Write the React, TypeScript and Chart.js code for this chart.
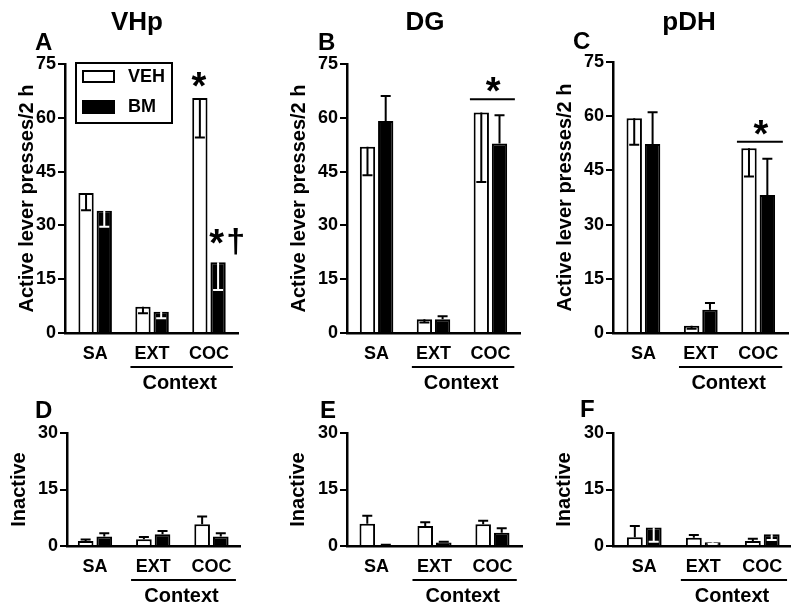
import React, { useEffect, useRef } from "react";
import { Chart, registerables } from "chart.js";

Chart.register(...registerables);

const FONT = '"Liberation Sans", Arial, Helvetica, sans-serif';
Chart.defaults.font.family = FONT;
Chart.defaults.color = "#000";

// ---------- text ----------
const categories = ["SA", "EXT", "COC"];
const contextLabel = "Context";
const seriesLabels = ["VEH", "BM"];
const regionTitles = ["VHp", "DG", "pDH"];
const panelLetters = ["A", "B", "C", "D", "E", "F"];
const activeAxisTitle = "Active lever presses/2 h";
const inactiveAxisTitle = "Inactive";
const activeTicks = [0, 15, 30, 45, 60, 75];
const inactiveTicks = [0, 15, 30];

// ---------- data (mean, SEM; dir 1 = error bar drawn above, -1 = drawn into bar) ----------
// A – VHp, active lever
const vhpActiveVeh = [39.0, 7.3, 65.5];
const vhpActiveVehSem = [4.8, 1.8, 11.0];
const vhpActiveVehDir = [-1, -1, -1];
const vhpActiveBm = [34.1, 5.9, 19.7];
const vhpActiveBmSem = [4.5, 1.8, 7.7];
const vhpActiveBmDir = [-1, -1, -1];

// B – DG, active lever
const dgActiveVeh = [51.9, 3.8, 61.5];
const dgActiveVehSem = [7.9, 0.9, 19.4];
const dgActiveVehDir = [-1, -1, -1];
const dgActiveBm = [59.1, 3.8, 52.8];
const dgActiveBmSem = [7.0, 0.9, 7.9];
const dgActiveBmDir = [1, 1, 1];

// C – pDH, active lever
const pdhActiveVeh = [59.4, 2.0, 51.1];
const pdhActiveVehSem = [7.3, 0.8, 7.8];
const pdhActiveVehDir = [-1, -1, -1];
const pdhActiveBm = [52.3, 6.4, 38.2];
const pdhActiveBmSem = [8.8, 1.9, 10.0];
const pdhActiveBmDir = [1, 1, 1];

// D – VHp, inactive lever
const vhpInactiveVeh = [1.3, 1.8, 5.8];
const vhpInactiveVehSem = [0.4, 0.6, 2.0];
const vhpInactiveVehDir = [1, 1, 1];
const vhpInactiveBm = [2.5, 3.1, 2.5];
const vhpInactiveBmSem = [0.9, 0.9, 0.9];
const vhpInactiveBmDir = [1, 1, 1];

// E – DG, inactive lever
const dgInactiveVeh = [5.9, 5.3, 5.8];
const dgInactiveVehSem = [2.1, 1.0, 0.9];
const dgInactiveVehDir = [1, 1, 1];
const dgInactiveBm = [0.2, 0.9, 3.5];
const dgInactiveBmSem = [0.1, 0.2, 1.2];
const dgInactiveBmDir = [1, 1, 1];

// F – pDH, inactive lever
const pdhInactiveVeh = [2.3, 2.2, 1.3];
const pdhInactiveVehSem = [3.0, 0.7, 0.6];
const pdhInactiveVehDir = [1, 1, 1];
const pdhInactiveBm = [4.9, 1.0, 3.1];
const pdhInactiveBmSem = [3.8, 0.5, 1.5];
const pdhInactiveBmDir = [-1, -1, -1];

// ---------- panel layout ----------
type Mark = { text: string; x: number; y: number; size: number };
type PanelDef = {
  id: string;
  left: number; top: number; width: number; height: number;
  yWidth: number; padTop: number; padRight: number; padBottom: number;
  xMin: number; xMax: number;
  ticks: number[]; yTitle: string; yTitlePad: number;
  veh: number[]; vehSem: number[]; vehDir: number[];
  bm: number[]; bmSem: number[]; bmDir: number[];
  heading?: { text: string; cx: number; base: number };
  letter: { text: string; x: number; base: number };
  marks: Mark[];
  sigLine?: { x1: number; x2: number; y: number };
  legend?: { x: number; y: number; w: number; h: number };
};

const panels: PanelDef[] = [
  {
    id: "A", left: 0, top: 0, width: 270, height: 400,
    yWidth: 65, padTop: 64, padRight: 32, padBottom: 37, xMin: -0.53, xMax: 2.51,
    ticks: activeTicks, yTitle: activeAxisTitle, yTitlePad: 15.5,
    veh: vhpActiveVeh, vehSem: vhpActiveVehSem, vehDir: vhpActiveVehDir,
    bm: vhpActiveBm, bmSem: vhpActiveBmSem, bmDir: vhpActiveBmDir,
    heading: { text: regionTitles[0], cx: 137, base: 30 },
    letter: { text: panelLetters[0], x: 35, base: 50 },
    marks: [
      { text: "*", x: 1.825, y: 70.8, size: 38 },
      { text: "*", x: 2.136, y: 26.8, size: 38 },
      { text: "†", x: 2.47, y: 25.4, size: 34 },
    ],
    legend: { x: 76, y: 63, w: 96, h: 60 },
  },
  {
    id: "B", left: 270, top: 0, width: 260, height: 400,
    yWidth: 77, padTop: 64, padRight: 10, padBottom: 37, xMin: -0.52, xMax: 2.52,
    ticks: activeTicks, yTitle: activeAxisTitle, yTitlePad: 17.5,
    veh: dgActiveVeh, vehSem: dgActiveVehSem, vehDir: dgActiveVehDir,
    bm: dgActiveBm, bmSem: dgActiveBmSem, bmDir: dgActiveBmDir,
    heading: { text: regionTitles[1], cx: 155, base: 30 },
    letter: { text: panelLetters[1], x: 48, base: 50 },
    marks: [{ text: "*", x: 2.05, y: 69.4, size: 38 }],
    sigLine: { x1: 1.64, x2: 2.43, y: 65.2 },
  },
  {
    id: "C", left: 530, top: 0, width: 270, height: 400,
    yWidth: 83, padTop: 62, padRight: 12, padBottom: 37, xMin: -0.53, xMax: 2.52,
    ticks: activeTicks, yTitle: activeAxisTitle, yTitlePad: 23.5,
    veh: pdhActiveVeh, vehSem: pdhActiveVehSem, vehDir: pdhActiveVehDir,
    bm: pdhActiveBm, bmSem: pdhActiveBmSem, bmDir: pdhActiveBmDir,
    heading: { text: regionTitles[2], cx: 159, base: 30 },
    letter: { text: panelLetters[2], x: 43, base: 49 },
    marks: [{ text: "*", x: 2.05, y: 56.9, size: 38 }],
    sigLine: { x1: 1.63, x2: 2.43, y: 52.9 },
  },
  {
    id: "D", left: 0, top: 400, width: 270, height: 212,
    yWidth: 67, padTop: 33, padRight: 30, padBottom: 36, xMin: -0.48, xMax: 2.49,
    ticks: inactiveTicks, yTitle: inactiveAxisTitle, yTitlePad: 7,
    veh: vhpInactiveVeh, vehSem: vhpInactiveVehSem, vehDir: vhpInactiveVehDir,
    bm: vhpInactiveBm, bmSem: vhpInactiveBmSem, bmDir: vhpInactiveBmDir,
    letter: { text: panelLetters[3], x: 35, base: 18 },
    marks: [],
  },
  {
    id: "E", left: 270, top: 400, width: 260, height: 212,
    yWidth: 77, padTop: 33, padRight: 8, padBottom: 36, xMin: -0.51, xMax: 2.51,
    ticks: inactiveTicks, yTitle: inactiveAxisTitle, yTitlePad: 16,
    veh: dgInactiveVeh, vehSem: dgInactiveVehSem, vehDir: dgInactiveVehDir,
    bm: dgInactiveBm, bmSem: dgInactiveBmSem, bmDir: dgInactiveBmDir,
    letter: { text: panelLetters[4], x: 50, base: 18 },
    marks: [],
  },
  {
    id: "F", left: 530, top: 400, width: 270, height: 212,
    yWidth: 83, padTop: 33, padRight: 10, padBottom: 36, xMin: -0.53, xMax: 2.47,
    ticks: inactiveTicks, yTitle: inactiveAxisTitle, yTitlePad: 22,
    veh: pdhInactiveVeh, vehSem: pdhInactiveVehSem, vehDir: pdhInactiveVehDir,
    bm: pdhInactiveBm, bmSem: pdhInactiveBmSem, bmDir: pdhInactiveBmDir,
    letter: { text: panelLetters[5], x: 50, base: 17 },
    marks: [],
  },
];

const contextFrom = 0.62;
const contextTo = 2.42;

// ---------- plugins ----------
const errorBarPlugin = {
  id: "semBars",
  afterDatasetsDraw(chart: any) {
    const ctx = chart.ctx;
    const ys = chart.scales.y;
    chart.data.datasets.forEach((ds: any, di: number) => {
      const meta = chart.getDatasetMeta(di);
      meta.data.forEach((bar: any, i: number) => {
        const v = ds.data[i].y;
        const e = ds.sem[i];
        const d = ds.semDir[i];
        const y0 = ys.getPixelForValue(v);
        const y1 = ys.getPixelForValue(v + d * e);
        ctx.save();
        ctx.strokeStyle = d < 0 && ds.dark ? "#fff" : "#000";
        ctx.lineWidth = 2;
        ctx.beginPath();
        ctx.moveTo(bar.x, y0);
        ctx.lineTo(bar.x, y1);
        ctx.moveTo(bar.x - 5, y1);
        ctx.lineTo(bar.x + 5, y1);
        ctx.stroke();
        ctx.restore();
      });
    });
  },
};

function drawCentered(ctx: CanvasRenderingContext2D, text: string, cx: number, cy: number) {
  ctx.textAlign = "left";
  ctx.textBaseline = "alphabetic";
  const m = ctx.measureText(text);
  const w = m.actualBoundingBoxLeft + m.actualBoundingBoxRight;
  const x = cx - w / 2 + m.actualBoundingBoxLeft;
  const y = cy + (m.actualBoundingBoxAscent - m.actualBoundingBoxDescent) / 2;
  ctx.fillText(text, x, y);
}

function makeDecor(p: PanelDef) {
  return {
    id: "decor" + p.id,
    afterDraw(chart: any) {
      const { ctx, chartArea } = chart;
      const xs = chart.scales.x;
      const ys = chart.scales.y;
      ctx.save();
      ctx.fillStyle = "#000";
      ctx.strokeStyle = "#000";
      ctx.lineWidth = 2;
      if (p.heading) {
        ctx.font = `bold 26px ${FONT}`;
        ctx.textAlign = "center";
        ctx.textBaseline = "alphabetic";
        ctx.fillText(p.heading.text, p.heading.cx, p.heading.base);
      }
      ctx.font = `bold 24px ${FONT}`;
      ctx.textAlign = "left";
      ctx.textBaseline = "alphabetic";
      ctx.fillText(p.letter.text, p.letter.x, p.letter.base);

      // Context bracket
      const ly = chartArea.bottom + 34;
      const x1 = xs.getPixelForValue(contextFrom);
      const x2 = xs.getPixelForValue(contextTo);
      ctx.beginPath();
      ctx.moveTo(x1, ly);
      ctx.lineTo(x2, ly);
      ctx.stroke();
      ctx.font = `bold 20px ${FONT}`;
      ctx.textAlign = "center";
      ctx.textBaseline = "middle";
      ctx.fillText(contextLabel, (x1 + x2) / 2 - 2, chartArea.bottom + 50);

      if (p.sigLine) {
        const sy = ys.getPixelForValue(p.sigLine.y);
        ctx.beginPath();
        ctx.moveTo(xs.getPixelForValue(p.sigLine.x1), sy);
        ctx.lineTo(xs.getPixelForValue(p.sigLine.x2), sy);
        ctx.stroke();
      }
      for (const m of p.marks) {
        ctx.font = `bold ${m.size}px ${FONT}`;
        drawCentered(ctx, m.text, xs.getPixelForValue(m.x), ys.getPixelForValue(m.y));
      }
      if (p.legend) {
        const L = p.legend;
        ctx.strokeRect(L.x, L.y, L.w, L.h);
        const sw = 33, sh = 13;
        const rows = [L.y + 7, L.y + 37];
        chart.data.datasets.forEach((ds: any, i: number) => {
          const ry = rows[i];
          if (ds.dark) {
            ctx.fillStyle = "#000";
            ctx.fillRect(L.x + 6, ry, sw, sh + 1);
          } else {
            ctx.fillStyle = "#fff";
            ctx.fillRect(L.x + 6, ry, sw, sh);
            ctx.strokeRect(L.x + 7, ry + 1, sw - 2, sh - 2);
          }
          ctx.fillStyle = "#000";
          ctx.font = `bold 18px ${FONT}`;
          ctx.textAlign = "left";
          ctx.textBaseline = "middle";
          ctx.fillText(ds.label, L.x + 52, ry + sh / 2 + 0.5);
        });
      }
      ctx.restore();
    },
  };
}

function Panel({ p }: { p: PanelDef }) {
  const ref = useRef<HTMLCanvasElement | null>(null);
  useEffect(() => {
    if (!ref.current) return;
    const maxY = p.ticks[p.ticks.length - 1];
    const chart = new Chart(ref.current, {
      type: "bar",
      data: {
        datasets: [
          {
            label: seriesLabels[0],
            data: p.veh.map((v, i) => ({ x: i, y: v })),
            backgroundColor: "#fff",
            borderColor: "#000",
            borderWidth: 2,
            categoryPercentage: 0.64,
            barPercentage: 0.84,
            sem: p.vehSem,
            semDir: p.vehDir,
            dark: false,
          } as any,
          {
            label: seriesLabels[1],
            data: p.bm.map((v, i) => ({ x: i, y: v })),
            backgroundColor: "#000",
            borderColor: "#000",
            borderWidth: 2,
            categoryPercentage: 0.64,
            barPercentage: 0.84,
            sem: p.bmSem,
            semDir: p.bmDir,
            dark: true,
          } as any,
        ],
      },
      options: {
        animation: false,
        responsive: false,
        devicePixelRatio: 1,
        layout: { padding: { left: 0, top: p.padTop, right: p.padRight, bottom: p.padBottom } },
        plugins: { legend: { display: false }, tooltip: { enabled: false } },
        scales: {
          x: {
            type: "linear",
            min: p.xMin,
            max: p.xMax,
            offset: false,
            afterBuildTicks: (s: any) => {
              s.ticks = categories.map((_, i) => ({ value: i }));
            },
            afterFit: (s: any) => {
              s.height = 30;
            },
            grid: { display: false, drawTicks: false },
            border: { display: true, color: "#000", width: 2.5 },
            ticks: {
              autoSkip: false,
              maxRotation: 0,
              padding: 10,
              color: "#000",
              font: { size: 18, weight: "bold" },
              callback: (_v: any, i: number) => categories[i],
            },
          },
          y: {
            type: "linear",
            min: 0,
            max: maxY,
            afterBuildTicks: (s: any) => {
              s.ticks = p.ticks.map((v) => ({ value: v }));
            },
            afterFit: (s: any) => {
              s.width = p.yWidth;
            },
            grid: {
              display: true,
              drawOnChartArea: false,
              drawTicks: true,
              tickLength: 7,
              color: "#000",
              lineWidth: 2,
            },
            border: { display: true, color: "#000", width: 2.5 },
            ticks: { padding: 2, color: "#000", font: { size: 18, weight: "bold" } },
            title: {
              display: true,
              text: p.yTitle,
              color: "#000",
              font: { size: 20, weight: "bold" },
              padding: { top: p.yTitlePad, bottom: 0 },
            },
          },
        },
      } as any,
      plugins: [errorBarPlugin, makeDecor(p)],
    });
    return () => chart.destroy();
  }, [p]);
  return (
    <canvas
      ref={ref}
      width={p.width}
      height={p.height}
      style={{ position: "absolute", left: p.left, top: p.top, width: p.width, height: p.height }}
    />
  );
}

export default function App() {
  return (
    <div style={{ position: "absolute", left: 0, top: 0, width: 800, height: 612, background: "#fff" }}>
      {panels.map((p) => (
        <Panel key={p.id} p={p} />
      ))}
    </div>
  );
}
